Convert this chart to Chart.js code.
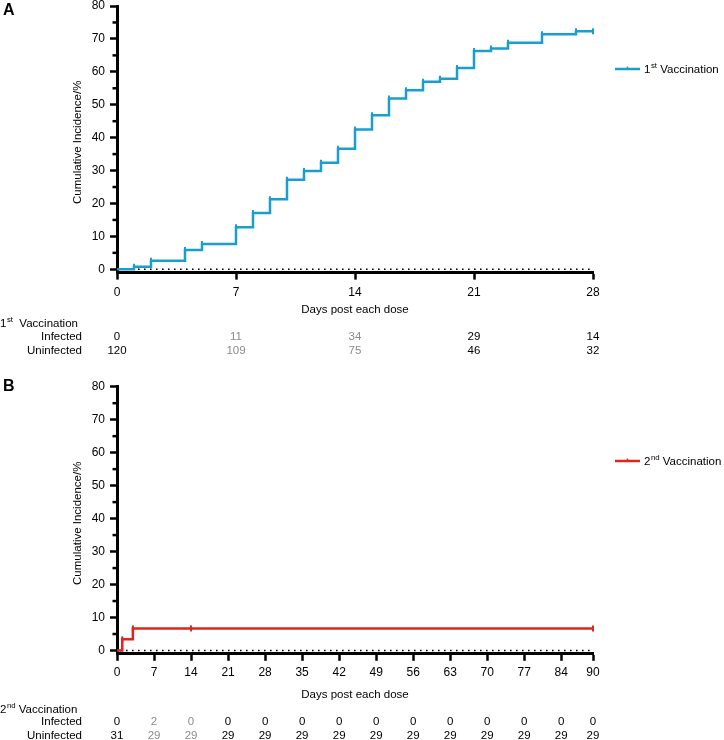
<!DOCTYPE html>
<html>
<head>
<meta charset="utf-8">
<script src="https://cdn.jsdelivr.net/npm/chart.js@4.4.0/dist/chart.umd.min.js"></script>
<style>
  body { margin: 0; background: #fff; }
  canvas { display: block; }
</style>
</head>
<body>
<canvas id="chart-a" width="724" height="370"></canvas>
<canvas id="chart-b" width="724" height="370"></canvas>
<script>
// panel A - 1st vaccination, cumulative incidence (%)
const daysA = [0, 1, 2, 4, 5, 7, 8, 9, 10, 11, 12, 13, 14, 15, 16, 17, 18, 19, 20, 21, 22, 23, 25, 27, 28];
const incidenceA = [0, 0.8, 2.6, 5.9, 7.7, 12.8, 17.1, 21.3, 27.2, 29.9, 32.4, 36.6, 42.5, 46.8, 51.9, 54.4, 57.0, 57.9, 61.2, 66.3, 67.1, 68.8, 71.4, 72.3, 72.3];
const xTicksA = [0, 7, 14, 21, 28];
const infectedA = [0, 11, 34, 29, 14];
const uninfectedA = [120, 109, 75, 46, 32];

// panel B - 2nd vaccination
const daysB = [0, 1, 3, 14, 90];
const incidenceB = [0, 3.4, 6.7, 6.7, 6.7];
const xTicksB = [0, 7, 14, 21, 28, 35, 42, 49, 56, 63, 70, 77, 84, 90];
const infectedB = [0, 2, 0, 0, 0, 0, 0, 0, 0, 0, 0, 0, 0, 0];
const uninfectedB = [31, 29, 29, 29, 29, 29, 29, 29, 29, 29, 29, 29, 29, 29];

const yTicks = [0, 10, 20, 30, 40, 50, 60, 70, 80];
const yMinorTicks = [5, 15, 25, 35, 45, 55, 65, 75];

const FONT = "'Liberation Sans', Arial, sans-serif";
const GRAY = '#8a8a8a';

function supText(ctx, x, y, base, sup, rest, size) {
    ctx.textAlign = 'left';
    ctx.textBaseline = 'alphabetic';
    ctx.font = size + 'px ' + FONT;
    ctx.fillText(base, x, y);
    x += ctx.measureText(base).width + 0.5;
    ctx.font = (size * 0.68) + 'px ' + FONT;
    ctx.fillText(sup, x, y - size * 0.42);
    x += ctx.measureText(sup).width;
    ctx.font = size + 'px ' + FONT;
    ctx.fillText(rest, x, y);
}

const extras = {
    id: 'extras',
    beforeDatasetsDraw(chart, args, o) {
        const { ctx, scales: { x, y } } = chart;
        const y0 = y.getPixelForValue(0);
        ctx.save();
        // dotted line at zero
        ctx.strokeStyle = '#000';
        ctx.lineWidth = 1.6;
        ctx.setLineDash([1.6, 4.4]);
        ctx.beginPath();
        ctx.moveTo(x.left + 3, y0);
        ctx.lineTo(x.right, y0);
        ctx.stroke();
        ctx.setLineDash([]);
        // minor y ticks
        ctx.lineWidth = 2.5;
        yMinorTicks.forEach(v => {
            const py = y.getPixelForValue(v);
            ctx.beginPath();
            ctx.moveTo(x.left - 4.5, py);
            ctx.lineTo(x.left, py);
            ctx.stroke();
        });
        ctx.restore();
    },
    afterDraw(chart, args, o) {
        const { ctx, scales: { x, y } } = chart;
        ctx.save();
        ctx.fillStyle = '#000';

        // panel letter
        ctx.font = 'bold 16px ' + FONT;
        ctx.textAlign = 'left';
        ctx.textBaseline = 'alphabetic';
        ctx.fillText(o.letter, 3, o.letterY);

        // y title
        ctx.save();
        ctx.translate(78, (y.top + y.bottom) / 2 + 3);
        ctx.rotate(-Math.PI / 2);
        ctx.font = '11.5px ' + FONT;
        ctx.textAlign = 'center';
        ctx.textBaseline = 'middle';
        ctx.fillText('Cumulative Incidence/%', 0, 0);
        ctx.restore();

        // x title
        ctx.font = '11.5px ' + FONT;
        ctx.textAlign = 'center';
        ctx.textBaseline = 'middle';
        ctx.fillText('Days post each dose', (x.left + x.right) / 2, o.xTitleY);

        // legend
        const ly = o.legendY;
        ctx.strokeStyle = o.color;
        ctx.lineWidth = 2.5;
        ctx.beginPath();
        ctx.moveTo(615, ly);
        ctx.lineTo(640, ly);
        ctx.stroke();
        ctx.lineWidth = 1.5;
        ctx.beginPath();
        ctx.moveTo(627.5, ly - 2.5);
        ctx.lineTo(627.5, ly);
        ctx.stroke();
        ctx.fillStyle = '#000';
        supText(ctx, 644, ly + 4, o.ordinal, o.sup, ' Vaccination', 11.5);

        // number-at-risk table
        supText(ctx, 0, o.tableY[0] + 4, o.ordinal, o.sup, o.headGap + 'Vaccination', 11.5);
        ctx.font = '11.5px ' + FONT;
        ctx.textAlign = 'right';
        ctx.textBaseline = 'middle';
        ctx.fillText('Infected', 82, o.tableY[1]);
        ctx.fillText('Uninfected', 82, o.tableY[2]);
        ctx.textAlign = 'center';
        o.ticks.forEach((t, i) => {
            const px = x.getPixelForValue(t);
            ctx.fillStyle = o.muted.includes(i) ? GRAY : '#000';
            ctx.fillText(String(o.infected[i]), px, o.tableY[1]);
            ctx.fillText(String(o.uninfected[i]), px, o.tableY[2]);
        });
        ctx.restore();
    }
};

function makePanel(id, p) {
    const data = p.days.map((d, i) => ({ x: d, y: p.values[i] }));
    return new Chart(document.getElementById(id), {
        type: 'line',
        data: {
            datasets: [{
                data: data,
                stepped: 'before',
                borderColor: p.color,
                borderWidth: 2.5,
                fill: false,
                pointStyle: 'line',
                rotation: 90,
                pointRadius: ctx => ctx.dataIndex === 0 ? 0 : 3,
                pointBorderWidth: 2,
                pointBorderColor: p.color,
                clip: false
            }]
        },
        options: {
            responsive: false,
            animation: false,
            layout: { padding: { top: p.top, left: 0, right: 724 - 593, bottom: 0 } },
            plugins: {
                legend: { display: false },
                tooltip: { enabled: false },
                extras: p
            },
            scales: {
                x: {
                    type: 'linear',
                    min: 0,
                    max: p.ticks[p.ticks.length - 1],
                    afterBuildTicks: axis => { axis.ticks = p.ticks.map(v => ({ value: v })); },
                    afterFit: axis => { axis.height = p.xHeight; },
                    border: { display: true, color: '#000', width: 3 },
                    grid: { display: true, drawOnChartArea: false, drawTicks: true, tickLength: 7, tickWidth: 2.5, tickColor: '#000', color: '#000' },
                    ticks: { autoSkip: false, maxRotation: 0, padding: p.xPad, color: '#000', font: { family: FONT, size: 12 } }
                },
                y: {
                    type: 'linear',
                    min: -1,
                    max: 80,
                    afterBuildTicks: axis => { axis.ticks = yTicks.map(v => ({ value: v })); },
                    afterFit: axis => { axis.width = 117; axis.paddingTop = 0; axis.paddingBottom = 0; },
                    border: { display: true, color: '#000', width: 3 },
                    grid: { display: true, drawOnChartArea: false, drawTicks: true, tickLength: 7, tickWidth: 2.5, tickColor: '#000', color: '#000' },
                    ticks: { padding: 5, color: '#000', font: { family: FONT, size: 12 } }
                }
            }
        },
        plugins: [extras]
    });
}

makePanel('chart-a', {
    letter: 'A', letterY: 15, ordinal: '1', sup: 'st', headGap: '  ',
    color: '#1A9DCF',
    days: daysA, values: incidenceA, ticks: xTicksA,
    infected: infectedA, uninfected: uninfectedA, muted: [1, 2],
    top: 6, xHeight: 370 - 272.6, xPad: 6,
    xTitleY: 310, legendY: 69, tableY: [323, 337, 351]
});

makePanel('chart-b', {
    letter: 'B', letterY: 21, ordinal: '2', sup: 'nd', headGap: ' ',
    color: '#E3241E',
    days: daysB, values: incidenceB, ticks: xTicksB,
    infected: infectedB, uninfected: uninfectedB, muted: [1, 2],
    top: 16.7, xHeight: 370 - 283.8, xPad: 5,
    xTitleY: 325, legendY: 91, tableY: [339, 352, 366]
});
</script>
</body>
</html>
